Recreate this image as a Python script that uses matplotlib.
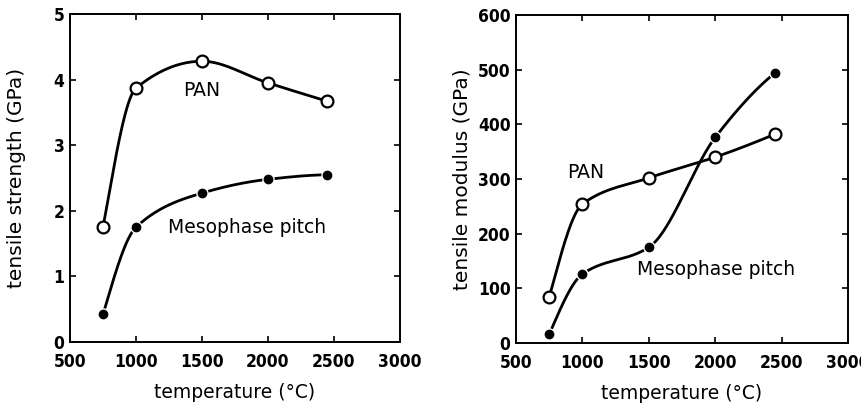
import numpy as np
import matplotlib.pyplot as plt
import matplotlib as mpl

mpl.rcParams.update({
    "font.family": ["DejaVu Sans"],
    "axes.linewidth": 1.4,
    "xtick.direction": "in", "ytick.direction": "in",
    "xtick.top": True, "ytick.right": True,
    "xtick.major.size": 4, "ytick.major.size": 4,
    "xtick.major.width": 1.2, "ytick.major.width": 1.2,
})

# ---- data ----
temp = [750, 1000, 1500, 2000, 2450]
strength_pan = [1.75, 3.87, 4.28, 3.95, 3.67]
strength_pitch = [0.42, 1.75, 2.27, 2.48, 2.55]
modulus_pan = [84, 254, 302, 340, 382]
modulus_pitch = [16, 126, 175, 376, 494]

x_ticks = [500, 1000, 1500, 2000, 2500, 3000]
strength_ticks = [0, 1, 2, 3, 4, 5]
modulus_ticks = [0, 100, 200, 300, 400, 500, 600]


def smooth(x, y, n=300):
    # monotone cubic (PCHIP) through the points, for the hand-drawn curves
    x = np.asarray(x, float); y = np.asarray(y, float)
    h = np.diff(x); d = np.diff(y) / h
    m = np.zeros_like(y)
    for k in range(1, len(x) - 1):
        if d[k-1] * d[k] > 0:
            w1 = 2*h[k] + h[k-1]; w2 = h[k] + 2*h[k-1]
            m[k] = (w1 + w2) / (w1/d[k-1] + w2/d[k])
    def end(h0, h1, d0, d1):
        v = ((2*h0 + h1)*d0 - h0*d1) / (h0 + h1)
        if np.sign(v) != np.sign(d0): v = 0.0
        elif np.sign(d0) != np.sign(d1) and abs(v) > abs(3*d0): v = 3*d0
        return v
    m[0] = end(h[0], h[1], d[0], d[1])
    m[-1] = end(h[-1], h[-2], d[-1], d[-2])
    xs = np.linspace(x[0], x[-1], n)
    idx = np.clip(np.searchsorted(x, xs) - 1, 0, len(x) - 2)
    t = (xs - x[idx]) / h[idx]
    h00 = 2*t**3 - 3*t**2 + 1; h10 = t**3 - 2*t**2 + t
    h01 = -2*t**3 + 3*t**2; h11 = t**3 - t**2
    ys = h00*y[idx] + h10*h[idx]*m[idx] + h01*y[idx+1] + h11*h[idx]*m[idx+1]
    return xs, ys


def draw(ax, y_open, y_filled):
    for ys in (y_open, y_filled):
        sx, sy = smooth(temp, ys)
        ax.plot(sx, sy, color="black", lw=2.0, solid_capstyle="butt", zorder=2)
    ax.plot(temp, y_open, "o", ms=8.5, mfc="white", mec="black", mew=1.6, zorder=3)
    ax.plot(temp, y_filled, "o", ms=9, mfc="white", mec="white", mew=0, zorder=3)
    ax.plot(temp, y_filled, "o", ms=6, mfc="black", mec="black", zorder=4)


tick_font = dict(family="DejaVu Sans", stretch="condensed", weight="bold", size=12.5)

fig = plt.figure(figsize=(8.62, 4.07), dpi=100)
ax1 = fig.add_axes([70/862, 65/407, 330/862, 328/407])
ax2 = fig.add_axes([516/862, 64/407, 332/862, 328/407])

draw(ax1, strength_pan, strength_pitch)
draw(ax2, modulus_pan, modulus_pitch)

for ax, yt, ylab in ((ax1, strength_ticks, "tensile strength (GPa)"),
                     (ax2, modulus_ticks, "tensile modulus (GPa)")):
    ax.set_xlim(500, 3000)
    ax.set_ylim(yt[0], yt[-1])
    ax.set_xticks(x_ticks); ax.set_yticks(yt)
    ax.set_xticklabels([str(v) for v in x_ticks], fontdict=tick_font)
    ax.set_yticklabels([str(v) for v in yt], fontdict=tick_font)
    ax.tick_params(axis="x", pad=8)
    ax.tick_params(axis="y", pad=4)
    ax.set_xlabel("temperature (°C)", fontsize=13.5, va="center")
    ax.set_ylabel(ylab, fontsize=14.5, va="center")
    ax.xaxis.set_label_coords(0.5, -0.155)
    ax.yaxis.set_label_coords(-0.162, 0.5)

ax1.text(1360, 3.84, "PAN", fontsize=13.5, va="center")
ax1.text(1246, 1.75, "Mesophase pitch", fontsize=13.5, va="center")
ax2.text(884, 311, "PAN", fontsize=13.5, va="center")
ax2.text(1411, 135, "Mesophase pitch", fontsize=13.5, va="center")

fig.savefig("out.png", dpi=100)
